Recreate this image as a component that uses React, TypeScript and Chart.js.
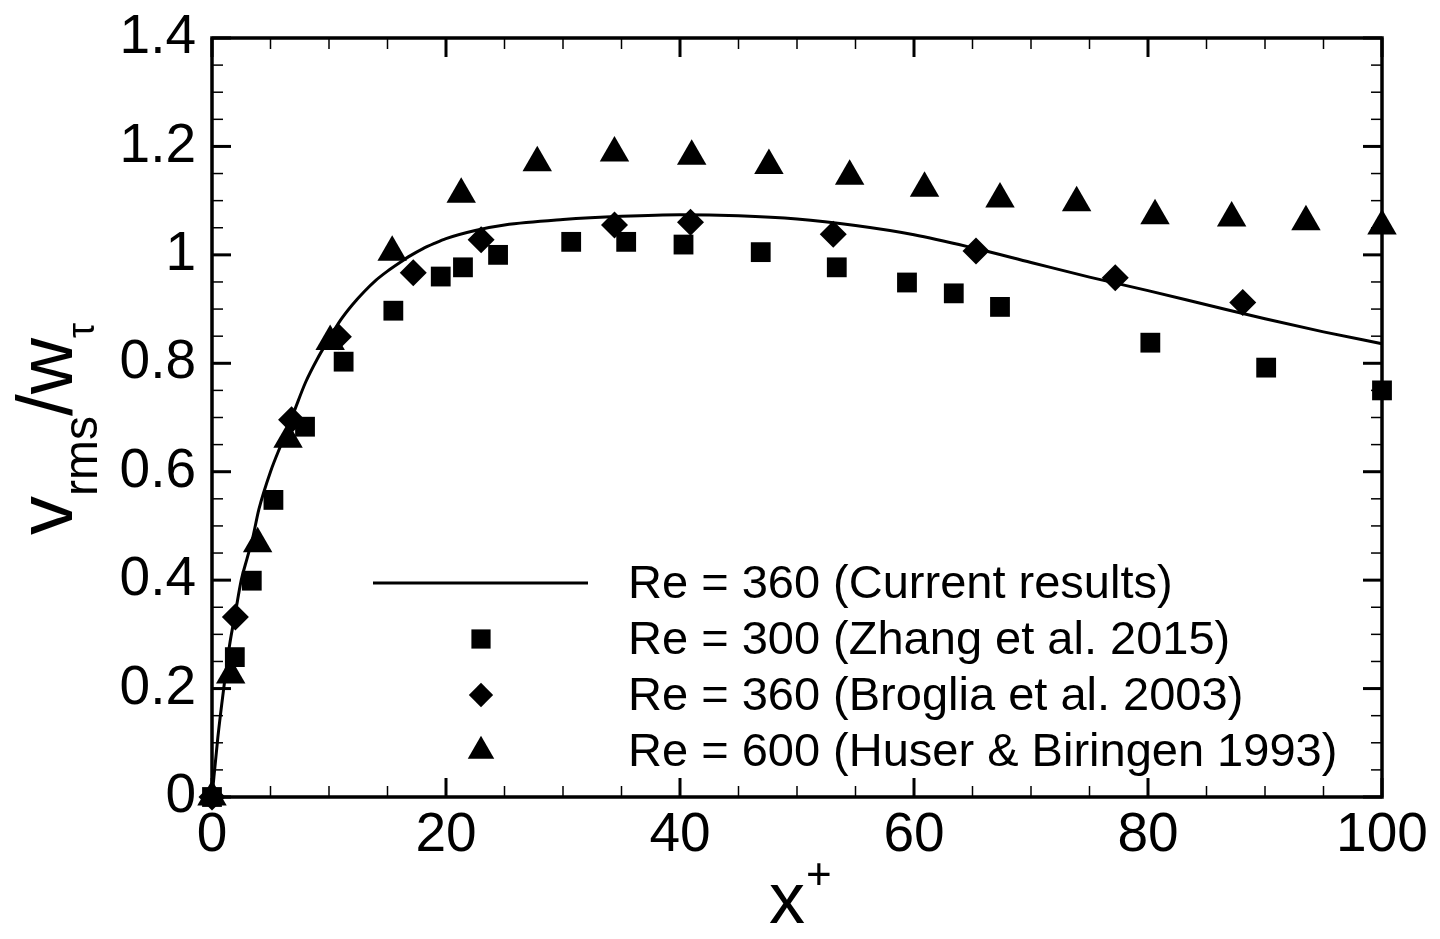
import { useEffect, useRef } from "react";
import Chart from "chart.js/auto";

// current DNS curve (Re = 360)
const lineX = [0, 0.5, 1, 1.5, 2, 2.5, 3, 3.5, 4, 5, 6, 7, 8, 9, 10, 11, 12, 13, 14, 15, 16, 17, 18, 19, 20, 22.5, 25, 30, 35, 40, 45, 50, 55, 60, 65, 70, 75, 80, 85, 90, 95, 100];
const lineY = [0, 0.11, 0.2, 0.28, 0.34, 0.4, 0.44, 0.48, 0.53, 0.6, 0.655, 0.71, 0.765, 0.808, 0.845, 0.88, 0.908, 0.932, 0.953, 0.97, 0.985, 0.999, 1.011, 1.021, 1.03, 1.045, 1.055, 1.065, 1.071, 1.074, 1.072, 1.066, 1.054, 1.037, 1.013, 0.986, 0.959, 0.934, 0.908, 0.882, 0.858, 0.836];

// Zhang et al. 2015
const zhangX = [0, 1.95, 3.4, 5.25, 7.95, 11.25, 15.5, 19.55, 21.45, 24.45, 30.7, 35.4, 40.3, 46.9, 53.4, 59.4, 63.4, 67.35, 80.2, 90.1, 100];
const zhangY = [0, 0.258, 0.399, 0.548, 0.683, 0.803, 0.897, 0.96, 0.977, 1.0, 1.024, 1.024, 1.019, 1.005, 0.977, 0.949, 0.929, 0.904, 0.838, 0.792, 0.75];

// Broglia et al. 2003
const brogliaX = [0, 2.0, 6.8, 10.8, 17.2, 23.0, 34.4, 40.9, 53.1, 65.3, 77.2, 88.1];
const brogliaY = [0, 0.332, 0.696, 0.849, 0.967, 1.028, 1.055, 1.06, 1.038, 1.007, 0.958, 0.912];

// Huser & Biringen 1993
const huserX = [0, 1.6, 3.9, 6.5, 10.1, 15.4, 21.3, 27.8, 34.4, 41.0, 47.6, 54.5, 60.9, 67.35, 73.9, 80.6, 87.15, 93.5, 100];
const huserY = [0, 0.225, 0.467, 0.66, 0.84, 1.005, 1.112, 1.17, 1.188, 1.182, 1.165, 1.145, 1.123, 1.103, 1.096, 1.072, 1.068, 1.061, 1.053];

const seriesLabels = [
  "Re = 360 (Current results)",
  "Re = 300 (Zhang et al. 2015)",
  "Re = 360 (Broglia et al. 2003)",
  "Re = 600 (Huser & Biringen 1993)",
];

const xTicks = [0, 20, 40, 60, 80, 100];
const xTickLabels = ["0", "20", "40", "60", "80", "100"];
const yTicks = [0, 0.2, 0.4, 0.6, 0.8, 1, 1.2, 1.4];
const yTickLabels = ["0", "0.2", "0.4", "0.6", "0.8", "1", "1.2", "1.4"];
const xMinorStep = 5;
const yMinorStep = 0.05;

const FONT = "'Liberation Sans', Arial, Helvetica, sans-serif";

const toPoints = (xs: number[], ys: number[]) => xs.map((x, i) => ({ x, y: ys[i] }));

const line = (ctx: CanvasRenderingContext2D, x1: number, y1: number, x2: number, y2: number) => {
  ctx.beginPath();
  ctx.moveTo(x1, y1);
  ctx.lineTo(x2, y2);
  ctx.stroke();
};

// frame + inward major/minor ticks on all four sides
const framePlugin = {
  id: "frameTicks",
  beforeDatasetsDraw(chart: any) {
    const { ctx, chartArea: a, scales } = chart;
    const xs = scales.x;
    const ys = scales.y;
    ctx.save();
    ctx.strokeStyle = "#000";
    ctx.lineCap = "butt";

    ctx.lineWidth = 1.5;
    for (let v = xs.min; v <= xs.max + 1e-9; v += xMinorStep) {
      const px = xs.getPixelForValue(v);
      line(ctx, px, a.bottom, px, a.bottom - 11);
      line(ctx, px, a.top, px, a.top + 11);
    }
    for (let v = ys.min; v <= ys.max + 1e-9; v += yMinorStep) {
      const py = ys.getPixelForValue(v);
      line(ctx, a.left, py, a.left + 11, py);
      line(ctx, a.right, py, a.right - 11, py);
    }

    ctx.lineWidth = 3;
    xTicks.forEach((v) => {
      const px = xs.getPixelForValue(v);
      line(ctx, px, a.bottom, px, a.bottom - 19);
      line(ctx, px, a.top, px, a.top + 19);
    });
    yTicks.forEach((v) => {
      const py = ys.getPixelForValue(v);
      line(ctx, a.left, py, a.left + 19, py);
      line(ctx, a.right, py, a.right - 19, py);
    });

    ctx.lineWidth = 3.5;
    ctx.strokeRect(a.left, a.top, a.right - a.left, a.bottom - a.top);
    ctx.restore();
  },
};

const drawSymbol = (ctx: CanvasRenderingContext2D, style: string, x: number, y: number, r: number) => {
  ctx.beginPath();
  if (style === "rect") {
    const s = Math.SQRT1_2 * r;
    ctx.rect(x - s, y - s, 2 * s, 2 * s);
  } else if (style === "rectRot") {
    ctx.moveTo(x, y - r);
    ctx.lineTo(x + r, y);
    ctx.lineTo(x, y + r);
    ctx.lineTo(x - r, y);
    ctx.closePath();
  } else if (style === "triangle") {
    ctx.moveTo(x, y - r);
    ctx.lineTo(x + r * Math.sin(Math.PI / 3), y + r / 2);
    ctx.lineTo(x - r * Math.sin(Math.PI / 3), y + r / 2);
    ctx.closePath();
  }
  ctx.fill();
};

// legend inside the plot, axis titles with sub/superscripts
const annotatePlugin = {
  id: "annotate",
  afterDraw(chart: any) {
    const { ctx, chartArea: a } = chart;
    ctx.save();
    ctx.fillStyle = "#000";
    ctx.strokeStyle = "#000";

    // legend (anchored from the bottom of the plot)
    const rowY0 = a.bottom - 214;
    const rowGap = 56;
    chart.data.datasets.forEach((ds: any, i: number) => {
      const y = rowY0 + i * rowGap;
      if (ds.showLine) {
        ctx.lineWidth = 3;
        line(ctx, a.left + 161, y, a.left + 376, y);
      } else {
        const k = ds.pointStyle === "rect" ? 0.97 : 0.9;
        drawSymbol(ctx, ds.pointStyle, a.left + 269, y, ds.pointRadius * k);
      }
      ctx.font = `47px ${FONT}`;
      ctx.textAlign = "left";
      ctx.textBaseline = "middle";
      ctx.fillText(ds.label, a.left + 416, y + 2);
    });

    // x title: x+
    ctx.textBaseline = "alphabetic";
    ctx.textAlign = "left";
    const xc = (a.left + a.right) / 2;
    ctx.font = `72px ${FONT}`;
    const xw = ctx.measureText("x").width;
    const x0 = xc - 14 - xw / 2 + 4;
    ctx.fillText("x", x0, a.bottom + 126);
    ctx.font = `44px ${FONT}`;
    ctx.fillText("+", x0 + xw + 1, a.bottom + 92);

    // y title: v_rms / w_tau
    ctx.translate(72, 535);
    ctx.rotate(-Math.PI / 2);
    let s = 0;
    const piece = (txt: string, size: number, dy: number) => {
      ctx.font = `${size}px ${FONT}`;
      ctx.fillText(txt, s, dy);
      s += ctx.measureText(txt).width;
    };
    piece("v", 78, 0);
    piece("rms", 48, 25);
    piece("/", 78, 0);
    piece("w", 78, 0);
    piece("\u03c4", 38, 22);
    ctx.restore();
  },
};

export default function App() {
  const canvasRef = useRef<HTMLCanvasElement>(null);
  const chartRef = useRef<Chart | null>(null);

  useEffect(() => {
    document.body.style.margin = "0";
    if (!canvasRef.current) return;
    if (chartRef.current) chartRef.current.destroy();

    const tickFont = { family: FONT, size: 55 };

    chartRef.current = new Chart(canvasRef.current, {
      type: "scatter",
      data: {
        datasets: [
          {
            type: "line",
            label: seriesLabels[0],
            data: toPoints(lineX, lineY),
            showLine: true,
            borderColor: "#000",
            borderWidth: 3,
            pointRadius: 0,
            cubicInterpolationMode: "monotone",
            fill: false,
            clip: false,
            order: 4,
          },
          {
            label: seriesLabels[1],
            data: toPoints(zhangX, zhangY),
            pointStyle: "rect",
            pointRadius: 14,
            backgroundColor: "#000",
            borderColor: "#000",
            borderWidth: 0,
            clip: false,
            order: 3,
          },
          {
            label: seriesLabels[2],
            data: toPoints(brogliaX, brogliaY),
            pointStyle: "rectRot",
            pointRadius: 13.5,
            backgroundColor: "#000",
            borderColor: "#000",
            borderWidth: 0,
            clip: false,
            order: 2,
          },
          {
            label: seriesLabels[3],
            data: toPoints(huserX, huserY),
            pointStyle: "triangle",
            pointRadius: 17,
            backgroundColor: "#000",
            borderColor: "#000",
            borderWidth: 0,
            clip: false,
            order: 1,
          },
        ] as any,
      },
      options: {
        animation: false,
        responsive: true,
        maintainAspectRatio: false,
        layout: { padding: { top: 38, right: 58, left: 0, bottom: 0 } },
        plugins: {
          legend: { display: false },
          tooltip: { enabled: false },
          title: { display: false },
        },
        scales: {
          x: {
            type: "linear",
            min: 0,
            max: 100,
            afterBuildTicks: (scale: any) => {
              scale.ticks = xTicks.map((value) => ({ value }));
            },
            afterFit: (scale: any) => {
              scale.height = 142;
              scale.paddingLeft = 0;
              scale.paddingRight = 0;
            },
            ticks: {
              font: tickFont,
              color: "#000",
              padding: 6,
              maxRotation: 0,
              autoSkip: false,
              callback: (v: any) => xTickLabels[xTicks.indexOf(Number(v))],
            },
            grid: { display: false, drawTicks: false },
            border: { display: false },
          },
          y: {
            type: "linear",
            min: 0,
            max: 1.4,
            afterBuildTicks: (scale: any) => {
              scale.ticks = yTicks.map((value) => ({ value }));
            },
            afterFit: (scale: any) => {
              scale.width = 212;
              scale.paddingTop = 0;
              scale.paddingBottom = 0;
            },
            ticks: {
              font: tickFont,
              color: "#000",
              padding: 16,
              autoSkip: false,
              callback: (v: any) => yTickLabels[yTicks.findIndex((t) => Math.abs(t - Number(v)) < 1e-9)],
            },
            grid: { display: false, drawTicks: false },
            border: { display: false },
          },
        },
      },
      plugins: [framePlugin, annotatePlugin],
    });

    return () => {
      if (chartRef.current) {
        chartRef.current.destroy();
        chartRef.current = null;
      }
    };
  }, []);

  return (
    <div style={{ width: 1440, height: 939, position: "relative", background: "#fff" }}>
      <canvas ref={canvasRef}></canvas>
    </div>
  );
}
